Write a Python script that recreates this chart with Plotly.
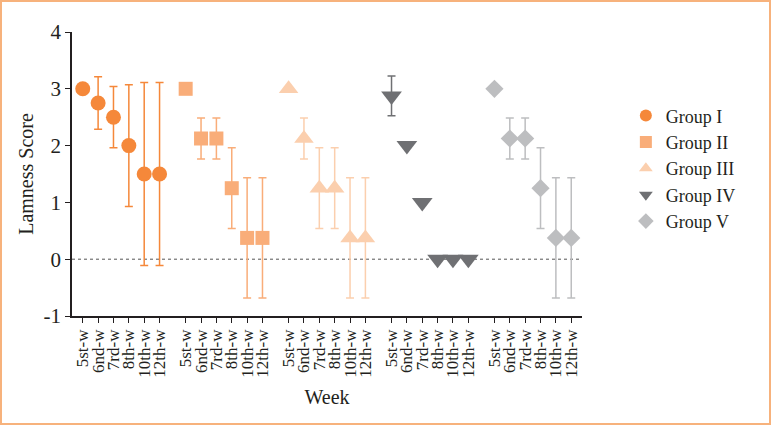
import plotly.graph_objects as go

weeks = ["5st-w", "6nd-w", "7rd-w", "8th-w", "10th-w", "12th-w"]
groups = ["Group I", "Group II", "Group III", "Group IV", "Group V"]
y_ticks = [-1, 0, 1, 2, 3, 4]
y_ticktext = ["-1", "0", "1", "2", "3", "4"]

g1_mean = [3.0, 2.75, 2.5, 2.0, 1.5, 1.5]
g1_err = [0, 0.46, 0.54, 1.07, 1.61, 1.61]
g2_mean = [3.0, 2.125, 2.125, 1.25, 0.375, 0.375]
g2_err = [0, 0.36, 0.36, 0.71, 1.06, 1.06]
g3_mean = [3.0, 2.125, 1.25, 1.25, 0.375, 0.375]
g3_err = [0, 0.36, 0.71, 0.71, 1.06, 1.06]
g4_mean = [2.875, 2.0, 1.0, 0.0, 0.0, 0.0]
g4_err = [0.35, 0, 0, 0, 0, 0]
g5_mean = [3.0, 2.125, 2.125, 1.25, 0.375, 0.375]
g5_err = [0, 0.36, 0.36, 0.71, 1.06, 1.06]

means = [g1_mean, g2_mean, g3_mean, g4_mean, g5_mean]
errs = [g1_err, g2_err, g3_err, g4_err, g5_err]
colors = ["#F5883A", "#F9AD79", "#FBCFAE", "#6F7073", "#BDBEC0"]
symbols = ["circle", "square", "triangle-up", "triangle-down", "diamond"]
sizes = [15, 14, 17, 18, 14]

GAP = 6.7
W, H = 771, 425
L, R, T, B = 72, 189, 32, 109
TXT = "#231F20"

fig = go.Figure()
tickvals, ticktext = [], []
for gi, name in enumerate(groups):
    xs = [gi * GAP + i for i in range(len(weeks))]
    tickvals += xs
    ticktext += weeks
    fig.add_trace(go.Scatter(
        x=xs, y=means[gi], mode="markers", name=name,
        marker=dict(symbol=symbols[gi], size=sizes[gi], color=colors[gi], line=dict(width=0)),
        error_y=dict(type="data", array=errs[gi], color=colors[gi], thickness=1.5, width=4, visible=True),
    ))

xmin, xmax = -0.7, 4 * GAP + 5 + 0.7

fig.add_shape(type="line", xref="x", yref="y", x0=xmin, x1=xmax, y0=0, y1=0,
              line=dict(color="#555555", width=1, dash="dot"), layer="below")

pw = W - L - R
ph = H - T - B
fig.add_shape(type="rect", xref="paper", yref="paper",
              x0=(-L + 1) / pw, x1=(W - L - 1) / pw,
              y0=-(B - 1) / ph, y1=(H - B - 1) / ph,
              line=dict(color="#F7B27C", width=2))

font = "Liberation Serif"
fig.update_layout(
    width=W, height=H,
    margin=dict(l=L, r=R, t=T, b=B),
    paper_bgcolor="white", plot_bgcolor="white",
    font=dict(family=font, color=TXT),
    showlegend=True,
    legend=dict(x=1.086, xanchor="left", xref="paper", y=0.77, yanchor="top",
                font=dict(size=18, family=font, color=TXT),
                itemsizing="constant", tracegroupgap=0, borderwidth=0,
                bgcolor="rgba(0,0,0,0)"),
    xaxis=dict(range=[xmin, xmax], tickmode="array", tickvals=tickvals, ticktext=ticktext,
               tickangle=-90, ticks="outside", ticklen=5, tickcolor="#231F20",
               showline=True, linecolor="#231F20", linewidth=1.5, showgrid=False, zeroline=False,
               tickfont=dict(size=17, family=font, color=TXT),
               title=dict(text="Week", font=dict(size=20, family=font, color=TXT), standoff=13)),
    yaxis=dict(range=[-1, 4], tickmode="array", tickvals=y_ticks, ticktext=y_ticktext,
               ticks="outside", ticklen=5, tickcolor="#231F20",
               showline=True, linecolor="#231F20", linewidth=1.5, showgrid=False, zeroline=False,
               tickfont=dict(size=21, family=font, color=TXT),
               title=dict(text="Lamness Score", font=dict(size=20, family=font, color=TXT), standoff=5)),
)

fig.write_html("out.html")
